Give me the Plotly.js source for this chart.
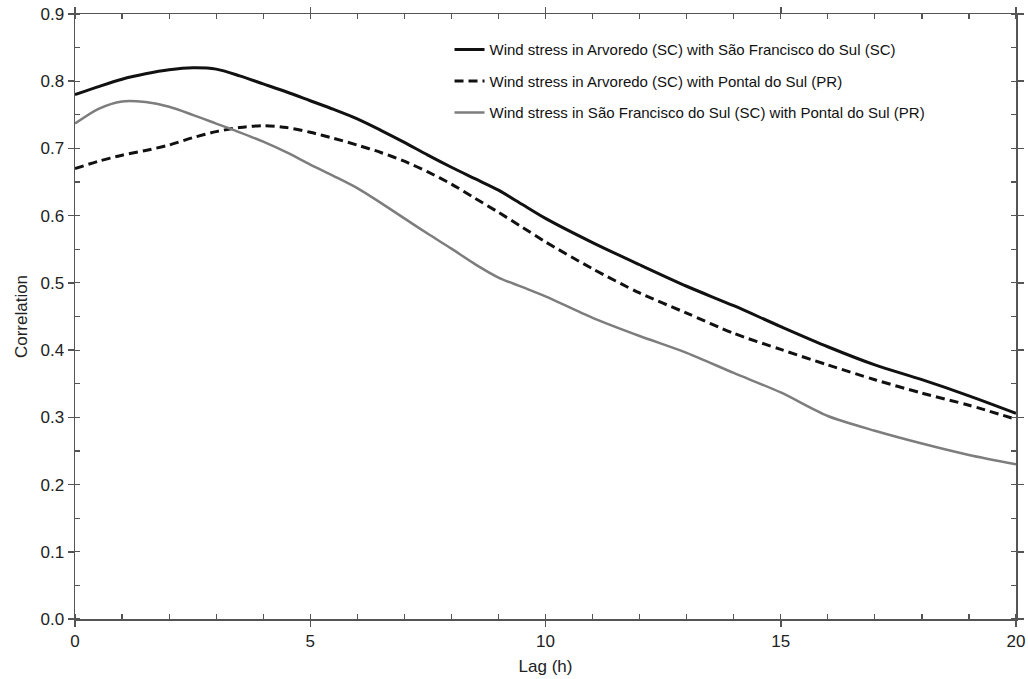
<!DOCTYPE html>
<html>
<head>
<meta charset="utf-8">
<script src="https://cdn.plot.ly/plotly-3.0.1.min.js"></script>
<style>html,body{margin:0;padding:0;background:#fff;}#chart{width:1028px;height:679px;}</style>
</head>
<body>
<div id="chart"></div>
<script>
const lag = [0, 0.5, 1, 1.5, 2, 2.5, 3, 3.5, 4, 4.5, 5, 5.5, 6, 6.5, 7, 7.5, 8, 8.5, 9, 9.5, 10, 11, 12, 13, 14, 15, 16, 17, 18, 19, 20];
const arvSfs = [0.780, 0.792, 0.803, 0.811, 0.817, 0.820, 0.818, 0.808, 0.796, 0.784, 0.771, 0.758, 0.744, 0.727, 0.709, 0.690, 0.672, 0.655, 0.638, 0.617, 0.596, 0.560, 0.527, 0.495, 0.466, 0.435, 0.405, 0.378, 0.356, 0.332, 0.306];
const arvPon = [0.670, 0.681, 0.690, 0.697, 0.705, 0.716, 0.725, 0.731, 0.734, 0.731, 0.724, 0.715, 0.705, 0.694, 0.681, 0.665, 0.647, 0.626, 0.605, 0.583, 0.561, 0.521, 0.485, 0.455, 0.425, 0.401, 0.378, 0.356, 0.336, 0.318, 0.297];
const sfsPon = [0.737, 0.759, 0.770, 0.769, 0.762, 0.750, 0.737, 0.724, 0.710, 0.694, 0.676, 0.659, 0.641, 0.619, 0.596, 0.573, 0.551, 0.528, 0.508, 0.494, 0.480, 0.448, 0.421, 0.396, 0.366, 0.337, 0.302, 0.280, 0.261, 0.244, 0.230];
const names = [
  'Wind stress in Arvoredo (SC) with São Francisco do Sul (SC)',
  'Wind stress in Arvoredo (SC) with Pontal do Sul (PR)',
  'Wind stress in São Francisco do Sul (SC) with Pontal do Sul (PR)'
];
const traces = [
  {x: lag, y: arvSfs, name: names[0], legendgroup: 'a', mode: 'lines', line: {color: '#111111', width: 3, shape: 'spline', smoothing: 0.8}},
  {x: lag, y: arvPon, name: names[1], legendgroup: 'b', mode: 'lines', line: {color: '#111111', width: 3, dash: '9px,5px', shape: 'spline', smoothing: 0.8}},
  {x: lag, y: sfsPon, name: names[2], legendgroup: 'c', mode: 'lines', line: {color: '#7d7d7d', width: 2.5, shape: 'spline', smoothing: 0.8}}
];
const FONT = 'Liberation Sans, Arial, sans-serif';
const axisCommon = {
  showgrid: false, zeroline: false, showline: true, linecolor: '#555', linewidth: 1.5,
  mirror: 'ticks', ticks: 'outside', ticklen: 6, tickcolor: '#555', tickwidth: 1.5,
  tickfont: {family: FONT, size: 17, color: '#222'}
};
const layout = {
  width: 1028, height: 679,
  margin: {l: 75, r: 12, t: 14, b: 60},
  paper_bgcolor: '#fff', plot_bgcolor: '#fff',
  showlegend: true,
  legend: {x: 0.398, y: 0.968, xanchor: 'left', yanchor: 'top', bgcolor: 'rgba(0,0,0,0)',
           font: {family: FONT, size: 15, color: '#111'},
           tracegroupgap: 9, traceorder: 'grouped', itemwidth: 30},
  xaxis: Object.assign({}, axisCommon, {
    range: [0, 20], tickvals: [0, 5, 10, 15, 20],
    minor: {dtick: 1, ticks: 'inside', ticklen: 5, tickcolor: '#555', tickwidth: 1.2},
    title: {text: 'Lag (h)', font: {family: FONT, size: 17, color: '#222'}, standoff: 10}
  }),
  yaxis: Object.assign({}, axisCommon, {
    range: [0, 0.9], dtick: 0.1, tickformat: '.1f',
    minor: {dtick: 0.05, ticks: 'inside', ticklen: 5, tickcolor: '#555', tickwidth: 1.2},
    title: {text: 'Correlation', font: {family: FONT, size: 17, color: '#222'}, standoff: 8}
  })
};
Plotly.newPlot('chart', traces, layout, {staticPlot: true, displayModeBar: false});
</script>
</body>
</html>
